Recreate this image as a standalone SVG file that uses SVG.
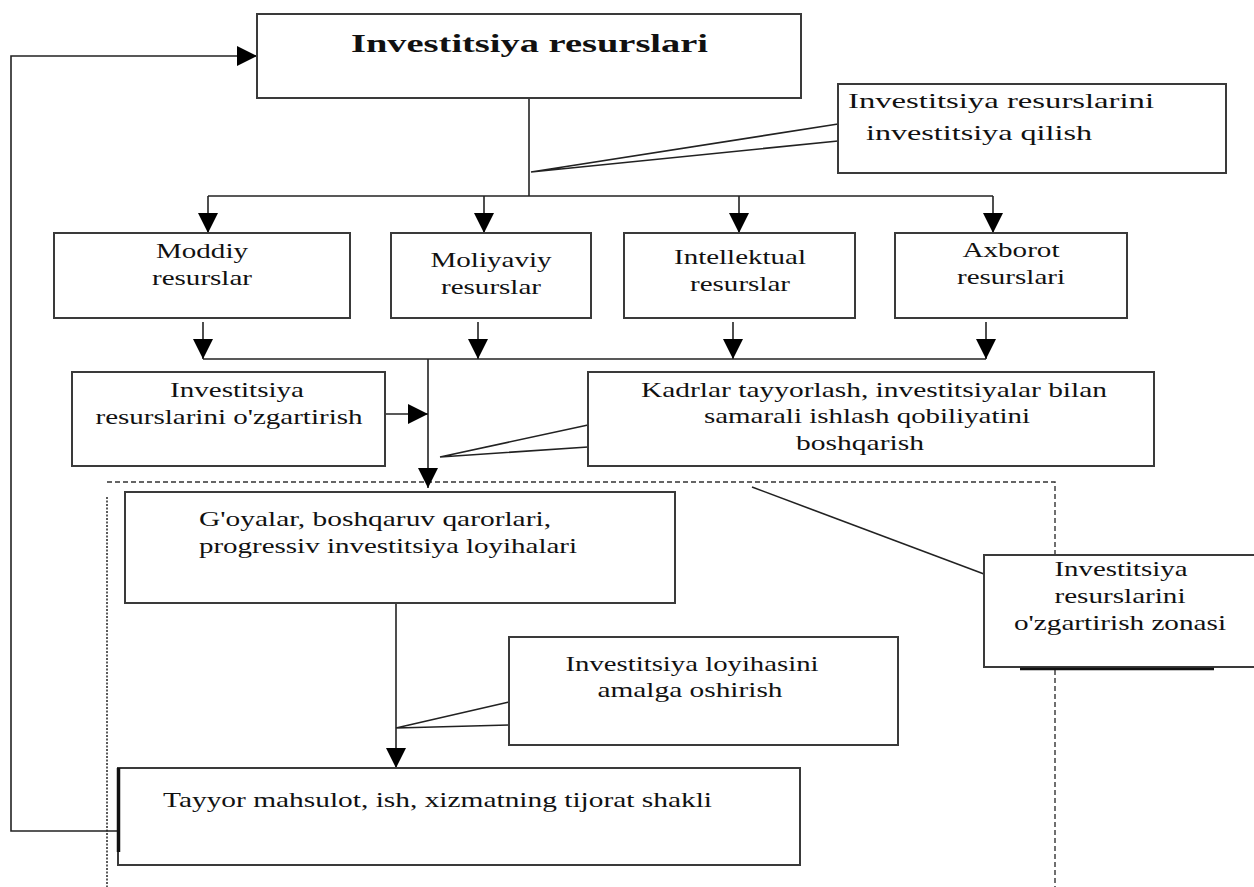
<svg xmlns="http://www.w3.org/2000/svg" width="1254" height="887" viewBox="0 0 1254 887">
<style>
.box{fill:#fff;stroke:#3a3a3a;stroke-width:2}
.ln{stroke:#222;stroke-width:1.6;fill:none}
.t{font-family:"Liberation Serif","Times New Roman",serif;font-size:22px;fill:#111}
.c{text-anchor:middle}
.b{font-weight:bold;font-size:25px}
.dash{stroke:#333;stroke-width:1.4;fill:none;stroke-dasharray:5,3}
.dot{stroke:#333;stroke-width:1.6;fill:none;stroke-dasharray:2,1.5}
</style>
<defs>
<marker id="ah" markerUnits="userSpaceOnUse" markerWidth="20" markerHeight="20" refX="20" refY="10" orient="auto">
<path d="M0,0 L20,10 L0,20 z" fill="#000"/>
</marker>
</defs>
<rect width="1254" height="887" fill="#fff"/>

<g id="zone">
<path class="dash" d="M107,482 H1055 V887"/>
<path class="dot" d="M107,497 V887"/>
</g>

<g id="connectors">
<path class="ln" d="M529,98 V196"/>
<path class="ln" d="M208,196 H993"/>
<path class="ln" d="M208,196 V233" marker-end="url(#ah)"/>
<path class="ln" d="M484,196 V233" marker-end="url(#ah)"/>
<path class="ln" d="M739,196 V233" marker-end="url(#ah)"/>
<path class="ln" d="M993,196 V233" marker-end="url(#ah)"/>
<path class="ln" d="M531,172 L838,124 M531,172 L838,141"/>
<path class="ln" d="M203,322 V359" marker-end="url(#ah)"/>
<path class="ln" d="M478,322 V359" marker-end="url(#ah)"/>
<path class="ln" d="M733,322 V359" marker-end="url(#ah)"/>
<path class="ln" d="M986,322 V359" marker-end="url(#ah)"/>
<path class="ln" d="M203,359 H986"/>
<path class="ln" d="M428,359 V488" marker-end="url(#ah)"/>
<path class="ln" d="M385,414 H428" marker-end="url(#ah)"/>
<path class="ln" d="M440,457 L588,425 M440,457 L588,447"/>
<path class="ln" d="M752,487 L984,574"/>
<path class="ln" d="M396,603 V768" marker-end="url(#ah)"/>
<path class="ln" d="M396,728 L509,702 M396,728 L509,725"/>
<path class="ln" d="M118,831 H11 V56 H257" marker-end="url(#ah)"/>
</g>

<g id="n-top">
<rect class="box" x="257" y="14" width="544" height="84"/>
<text class="t b" x="351" y="52" textLength="357" lengthAdjust="spacingAndGlyphs">Investitsiya resurslari</text>
</g>

<g id="n-invest">
<rect class="box" x="838" y="84" width="388" height="89"/>
<text class="t" x="848" y="108" textLength="306" lengthAdjust="spacingAndGlyphs">Investitsiya resurslarini</text>
<text class="t" x="866" y="140" textLength="226" lengthAdjust="spacingAndGlyphs">investitsiya qilish</text>
</g>

<g id="n-moddiy">
<rect class="box" x="54" y="233" width="296" height="85"/>
<text class="t c" x="202" y="258" textLength="92" lengthAdjust="spacingAndGlyphs">Moddiy</text>
<text class="t c" x="202" y="285" textLength="100" lengthAdjust="spacingAndGlyphs">resurslar</text>
</g>

<g id="n-moliyaviy">
<rect class="box" x="391" y="233" width="200" height="85"/>
<text class="t c" x="491" y="267" textLength="121" lengthAdjust="spacingAndGlyphs">Moliyaviy</text>
<text class="t c" x="491" y="294" textLength="100" lengthAdjust="spacingAndGlyphs">resurslar</text>
</g>

<g id="n-intellektual">
<rect class="box" x="624" y="233" width="231" height="85"/>
<text class="t c" x="740" y="264" textLength="132" lengthAdjust="spacingAndGlyphs">Intellektual</text>
<text class="t c" x="740" y="291" textLength="100" lengthAdjust="spacingAndGlyphs">resurslar</text>
</g>

<g id="n-axborot">
<rect class="box" x="895" y="233" width="232" height="85"/>
<text class="t c" x="1011" y="257" textLength="97" lengthAdjust="spacingAndGlyphs">Axborot</text>
<text class="t c" x="1011" y="284" textLength="108" lengthAdjust="spacingAndGlyphs">resurslari</text>
</g>

<g id="n-ozgartirish">
<rect class="box" x="72" y="372" width="313" height="94"/>
<text class="t c" x="237" y="397" textLength="134" lengthAdjust="spacingAndGlyphs">Investitsiya</text>
<text class="t c" x="229" y="424" textLength="267" lengthAdjust="spacingAndGlyphs">resurslarini o'zgartirish</text>
</g>

<g id="n-kadrlar">
<rect class="box" x="588" y="372" width="566" height="94"/>
<text class="t c" x="874" y="397" textLength="466" lengthAdjust="spacingAndGlyphs">Kadrlar tayyorlash, investitsiyalar bilan</text>
<text class="t c" x="867" y="423" textLength="326" lengthAdjust="spacingAndGlyphs">samarali ishlash qobiliyatini</text>
<text class="t c" x="860" y="450" textLength="128" lengthAdjust="spacingAndGlyphs">boshqarish</text>
</g>

<g id="n-goyalar">
<rect class="box" x="125" y="492" width="550" height="111"/>
<text class="t" x="199" y="526" textLength="352" lengthAdjust="spacingAndGlyphs">G'oyalar, boshqaruv qarorlari,</text>
<text class="t" x="199" y="553" textLength="378" lengthAdjust="spacingAndGlyphs">progressiv investitsiya loyihalari</text>
</g>

<g id="n-loyiha">
<rect class="box" x="509" y="637" width="389" height="108"/>
<text class="t c" x="692" y="671" textLength="253" lengthAdjust="spacingAndGlyphs">Investitsiya loyihasini</text>
<text class="t c" x="690" y="697" textLength="185" lengthAdjust="spacingAndGlyphs">amalga oshirish</text>
</g>

<g id="n-zona">
<rect class="box" x="984" y="555" width="280" height="112"/>
<path d="M1020,669 H1214" stroke="#111" stroke-width="2.5"/>
<text class="t c" x="1121" y="576" textLength="133" lengthAdjust="spacingAndGlyphs">Investitsiya</text>
<text class="t c" x="1120" y="603" textLength="131" lengthAdjust="spacingAndGlyphs">resurslarini</text>
<text class="t c" x="1120" y="630" textLength="212" lengthAdjust="spacingAndGlyphs">o'zgartirish zonasi</text>
</g>

<g id="n-tayyor">
<rect class="box" x="118" y="768" width="682" height="97"/>
<path d="M118.5,768 V852" stroke="#111" stroke-width="3.5"/>
<text class="t" x="163" y="807" textLength="549" lengthAdjust="spacingAndGlyphs">Tayyor mahsulot, ish, xizmatning tijorat shakli</text>
</g>
</svg>
